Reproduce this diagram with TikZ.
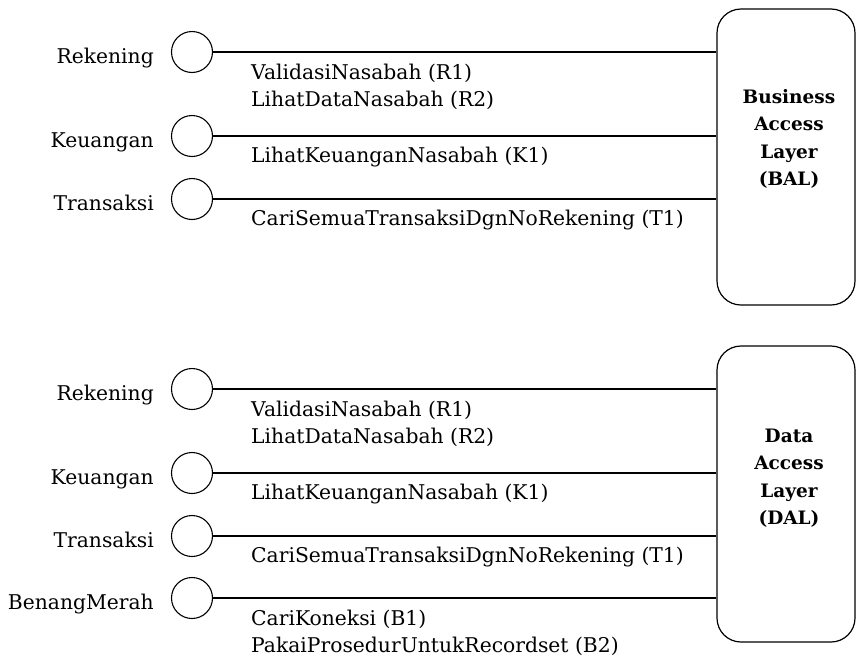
\documentclass[tikz,border=0pt]{standalone}
\usepackage{fontspec}
\setmainfont{DejaVu Serif}
\begin{document}
\begin{tikzpicture}[x=1pt, y=-1pt, every node/.style={inner sep=0pt},
  iface/.style={draw, circle, minimum size=41pt, line width=1.1pt},
  layer/.style={draw, rounded corners=24pt, minimum width=138pt, minimum height=296pt, line width=1.2pt},
  ifname/.style={anchor=base east, font=\fontsize{20.3}{27}\selectfont},
  op/.style={anchor=base west, font=\fontsize{20.3}{27}\selectfont},
  laytext/.style={align=center, font=\fontsize{18.5}{27.5}\selectfont\bfseries}]

\useasboundingbox (0,0) rectangle (856,659);

% business access layer
\node [layer] (bal) at (786,157) {};
\node [laytext] (baltext) at (789,139) {Business\\Access\\Layer\\(BAL)};

\node [iface] (rek1) at (192,52) {};
\node [iface] (keu1) at (192,136) {};
\node [iface] (trx1) at (192,199) {};

\node [ifname] (rek1n) at (154,63) {Rekening};
\node [ifname] (keu1n) at (154,147) {Keuangan};
\node [ifname] (trx1n) at (154,210) {Transaksi};

\node [op] (r1a) at (251,79) {ValidasiNasabah (R1)};
\node [op] (r2a) at (251,106) {LihatDataNasabah (R2)};
\node [op] (k1a) at (251,162) {LihatKeuanganNasabah (K1)};
\node [op] (t1a) at (251,225) {CariSemuaTransaksiDgnNoRekening (T1)};

\begin{scope}[line width=1.2pt]
\draw (rek1) -- (rek1 -| bal.west); %rek-bal
\draw (keu1) -- (keu1 -| bal.west); %keu-bal
\draw (trx1) -- (trx1 -| bal.west); %trx-bal
\end{scope}

% data access layer
\node [layer] (dal) at (786,494) {};
\node [laytext] (daltext) at (789,478) {Data\\Access\\Layer\\(DAL)};

\node [iface] (rek2) at (192,389) {};
\node [iface] (keu2) at (192,473) {};
\node [iface] (trx2) at (192,536) {};
\node [iface] (ben2) at (192,598) {};

\node [ifname] (rek2n) at (154,400) {Rekening};
\node [ifname] (keu2n) at (154,484) {Keuangan};
\node [ifname] (trx2n) at (154,547) {Transaksi};
\node [ifname] (ben2n) at (154,609) {BenangMerah};

\node [op] (r1b) at (251,416) {ValidasiNasabah (R1)};
\node [op] (r2b) at (251,443) {LihatDataNasabah (R2)};
\node [op] (k1b) at (251,499) {LihatKeuanganNasabah (K1)};
\node [op] (t1b) at (251,562) {CariSemuaTransaksiDgnNoRekening (T1)};
\node [op] (b1b) at (251,625) {CariKoneksi (B1)};
\node [op] (b2b) at (251,652) {PakaiProsedurUntukRecordset (B2)};

\begin{scope}[line width=1.2pt]
\draw (rek2) -- (rek2 -| dal.west); %rek-dal
\draw (keu2) -- (keu2 -| dal.west); %keu-dal
\draw (trx2) -- (trx2 -| dal.west); %trx-dal
\draw (ben2) -- (ben2 -| dal.west); %ben-dal
\end{scope}

\end{tikzpicture}
\end{document}
